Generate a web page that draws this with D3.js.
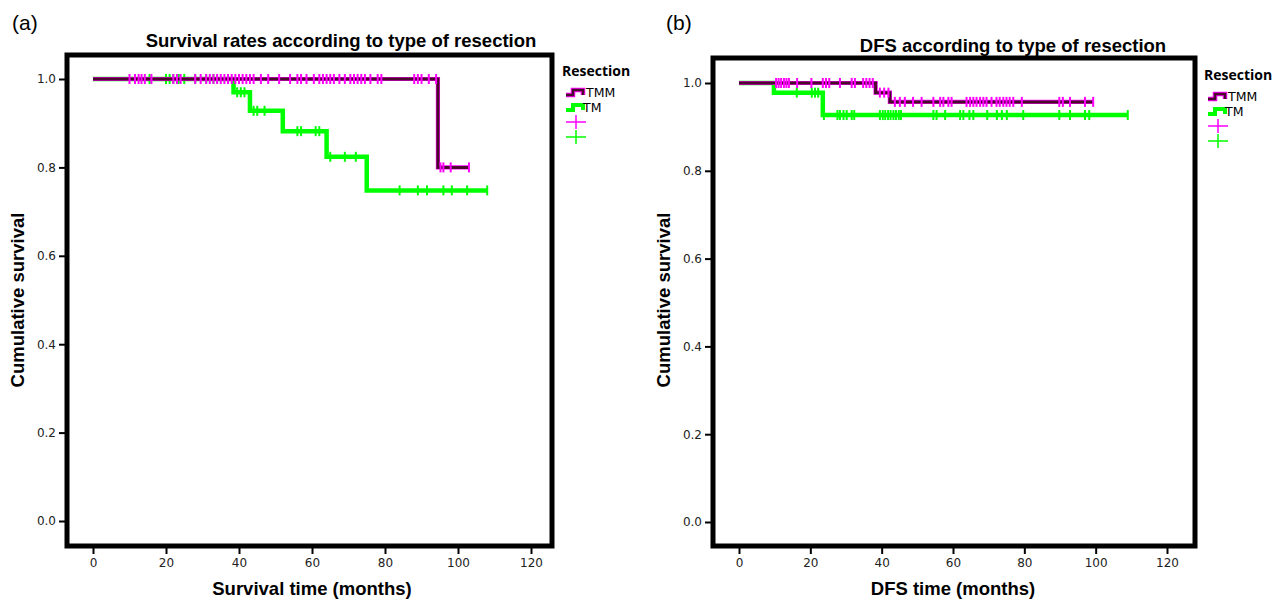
<!DOCTYPE html>
<html>
<head>
<meta charset="utf-8">
<script src="https://cdn.jsdelivr.net/npm/d3@7"></script>
<style>
  body { margin: 0; background: #fff; }
  svg { display: block; }
  .tick text { font-family: "DejaVu Sans", sans-serif; font-size: 12px; fill: #222; }
  .tick line { stroke: #000; stroke-width: 2; }
</style>
</head>
<body>
<div id="plot-container"></div>
<script>
// tick labels
var xTicks = [0, 20, 40, 60, 80, 100, 120]
var yTicks = [0, 0.2, 0.4, 0.6, 0.8, 1.0]

// (a) overall survival: event times and survival after each step
var osTmmTimes = [0, 94.5]
var osTmmSurv = [1.0, 0.80]
var osTmmEnd = 103
var osTmmCens = [10, 11.5, 12.5, 13.3, 14.2, 16, 22, 23, 24, 28, 29.5, 31, 32, 33, 34, 35, 36, 37, 38, 39,
  40, 41, 42, 43, 44, 46, 48, 51, 54, 56, 57, 58.5, 60.5, 62, 63, 64, 65, 66, 67.5, 69, 70.5, 71.5, 72.5,
  73.5, 74.5, 76, 78, 79, 88, 89, 90, 92, 94, 95.2, 96, 98, 103]
var osTmCens = [15.5, 20, 21, 22, 23.5, 25, 28, 31, 33, 39.5, 40.5, 41.5, 44, 45, 47, 56, 57, 61, 62,
  65, 69, 72, 84, 89, 91.5, 96, 98.3, 102.5, 108]
var osTmTimes = [0, 38.5, 43, 52, 64, 75]
var osTmSurv = [1.0, 0.97, 0.928, 0.882, 0.824, 0.748]
var osTmEnd = 108

// (b) disease-free survival
var dfsTmmTimes = [0, 38.3, 42.3]
var dfsTmmSurv = [1.0, 0.978, 0.957]
var dfsTmmEnd = 99.3
var dfsTmmCens = [10.4, 11.1, 11.8, 12.6, 13.3, 14.0, 16.3, 20.3, 23.5, 24.4, 25.3, 28.3, 31.6, 32.5, 34.8,
  35.7, 36.6, 37.5, 39.5, 40.7, 41.9, 43.7, 45.1, 46.5, 48.8, 51.2, 54.5, 56.4, 57.3, 58.7, 59.6, 63.8,
  64.8, 65.7, 66.6, 67.6, 68.5, 69.4, 70.8, 72.2, 73.1, 74.1, 75, 75.9, 76.9, 79.3, 89.8, 90.8, 92.8, 97, 99.3]
var dfsTmTimes = [0, 9.8, 23.5]
var dfsTmSurv = [1.0, 0.978, 0.927]
var dfsTmEnd = 109
var dfsTmCens = [16.2, 20.4, 21.3, 22.2, 23.8, 27.6, 28.3, 29.3, 30.2, 31.6, 32.3, 39.5, 40.3, 41, 41.8,
  42.5, 43.3, 44, 44.8, 45.4, 54.5, 55.4, 57.8, 62, 62.9, 64.6, 65.7, 69.6, 72.3, 73.7, 75.1, 79.7,
  89.8, 92.8, 97, 98.2, 109]

var purple = "#ff00ff"
var purpleDark = "#4a0a2c"
var green = "#00ff00"
var boldFont = "Liberation Sans, Arial, sans-serif"

var svg = d3.select("#plot-container").append("svg")
  .attr("width", 1282)
  .attr("height", 601)

function survAt (times, surv, t) {
  var s = surv[0]
  for (var i = 0; i < times.length; i++) { if (times[i] <= t) s = surv[i] }
  return s
}

function drawPanel (p) {
  var g = svg.append("g")

  var xScale = d3.scaleLinear().domain([0, 120]).range([p.x0, p.x120])
  var yScale = d3.scaleLinear().domain([0, 1]).range([p.y0, p.y1])

  // frame
  g.append("rect")
    .attr("x", p.left).attr("y", p.top)
    .attr("width", p.right - p.left).attr("height", p.bottom - p.top)
    .attr("fill", "none").attr("stroke", "#000").attr("stroke-width", 5)

  // axes
  var yAxis = g.append("g")
    .attr("transform", "translate(" + (p.left - 2) + ",0)")
    .call(d3.axisLeft(yScale).tickValues(yTicks).tickFormat(d3.format(".1f")).tickSize(6).tickPadding(3))
  yAxis.select(".domain").remove()

  var xAxis = g.append("g")
    .attr("transform", "translate(0," + (p.bottom + 2) + ")")
    .call(d3.axisBottom(xScale).tickValues(xTicks).tickSize(6).tickPadding(4))
  xAxis.select(".domain").remove()

  var line = d3.line()
    .x(d => xScale(d[0]))
    .y(d => yScale(d[1]))
    .curve(d3.curveStepAfter)

  function series (times, surv, end, cens, color, dark) {
    var pts = times.map((t, i) => [t, surv[i]])
    pts.push([end, surv[surv.length - 1]])
    if (dark) {
      g.append("path").attr("d", line(pts)).attr("fill", "none")
        .attr("stroke", color).attr("stroke-width", 4.2)
      g.append("path").attr("d", line(pts)).attr("fill", "none")
        .attr("stroke", dark).attr("stroke-width", 3)
    } else {
      g.append("path").attr("d", line(pts)).attr("fill", "none")
        .attr("stroke", color).attr("stroke-width", 4.5)
    }
    g.selectAll(null).data(cens).enter().append("line")
      .attr("x1", d => xScale(d)).attr("x2", d => xScale(d))
      .attr("y1", d => yScale(survAt(times, surv, d)) - 5)
      .attr("y2", d => yScale(survAt(times, surv, d)) + 5)
      .attr("stroke", color).attr("stroke-width", 2)
  }

  series(p.tmTimes, p.tmSurv, p.tmEnd, p.tmCens, green, null)
  series(p.tmmTimes, p.tmmSurv, p.tmmEnd, p.tmmCens, purple, purpleDark)

  // texts
  g.append("text").attr("x", p.labelX).attr("y", 30)
    .attr("font-family", boldFont).attr("font-size", 21)
    .text(p.label)
  g.append("text").attr("x", p.titleX).attr("y", p.titleY).attr("text-anchor", "middle")
    .attr("font-family", boldFont).attr("font-size", 18.5).attr("font-weight", "bold")
    .text(p.title)
  g.append("text").attr("x", (p.x0 + p.x120) / 2).attr("y", 595).attr("text-anchor", "middle")
    .attr("font-family", boldFont).attr("font-size", 18.5).attr("font-weight", "bold")
    .text(p.xLabel)
  g.append("text")
    .attr("transform", "translate(" + p.yLabelX + ",300) rotate(-90)")
    .attr("text-anchor", "middle")
    .attr("font-family", boldFont).attr("font-size", 18.5).attr("font-weight", "bold")
    .text("Cumulative survival")

  // legend
  var lg = g.append("g").attr("transform", "translate(" + p.legX + "," + p.legY + ")")
  lg.append("text").attr("x", 0).attr("y", 0)
    .attr("font-family", "Open Sans, DejaVu Sans, sans-serif").attr("font-size", 14).attr("font-weight", "bold")
    .text("Resection")
  var step = "M4,19 h7 v-5 h10 v5"
  lg.append("path").attr("d", step).attr("fill", "none").attr("stroke", purple).attr("stroke-width", 4.5)
  lg.append("path").attr("d", step).attr("fill", "none").attr("stroke", purpleDark).attr("stroke-width", 2.5)
  lg.append("text").attr("x", 24).attr("y", 21).attr("font-family", "DejaVu Sans, sans-serif").attr("font-size", 12.5).text("TMM")
  lg.append("path").attr("d", "M4,34 h7 v-5 h10 v5").attr("fill", "none").attr("stroke", green).attr("stroke-width", 4)
  lg.append("text").attr("x", 21).attr("y", 36).attr("font-family", "DejaVu Sans, sans-serif").attr("font-size", 12.5).text("TM")
  ;[[purple, 46], [green, 61]].forEach(function (c) {
    lg.append("path").attr("d", "M4," + c[1] + " h20 M14," + (c[1] - 7) + " v14")
      .attr("stroke", c[0]).attr("stroke-width", 1.5)
  })
}

drawPanel({
  left: 67, right: 552, top: 55, bottom: 546,
  x0: 93, x120: 531, y0: 521, y1: 79,
  label: "(a)", labelX: 12,
  title: "Survival rates according to type of resection", titleX: 341, titleY: 47,
  xLabel: "Survival time (months)", yLabelX: 24,
  legX: 562, legY: 76,
  tmmTimes: osTmmTimes, tmmSurv: osTmmSurv, tmmEnd: osTmmEnd, tmmCens: osTmmCens,
  tmTimes: osTmTimes, tmSurv: osTmSurv, tmEnd: osTmEnd, tmCens: osTmCens
})

drawPanel({
  left: 713, right: 1195, top: 58, bottom: 546,
  x0: 739, x120: 1167, y0: 522, y1: 83,
  label: "(b)", labelX: 666,
  title: "DFS according to type of resection", titleX: 1013, titleY: 52,
  xLabel: "DFS time (months)", yLabelX: 670,
  legX: 1204, legY: 80,
  tmmTimes: dfsTmmTimes, tmmSurv: dfsTmmSurv, tmmEnd: dfsTmmEnd, tmmCens: dfsTmmCens,
  tmTimes: dfsTmTimes, tmSurv: dfsTmSurv, tmEnd: dfsTmEnd, tmCens: dfsTmCens
})
</script>
</body>
</html>
